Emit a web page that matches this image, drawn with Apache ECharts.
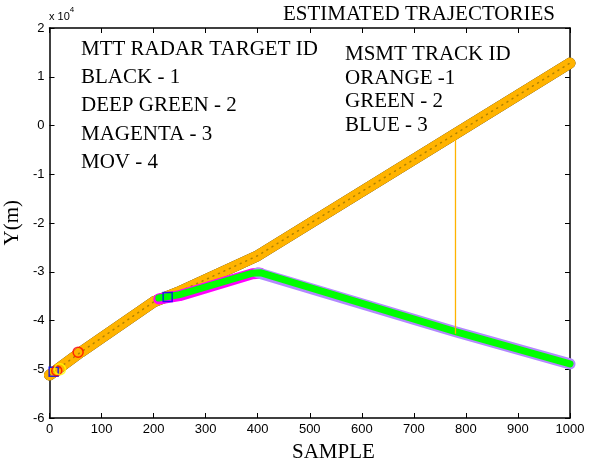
<!DOCTYPE html>
<html>
<head>
<meta charset="utf-8">
<script src="https://cdn.jsdelivr.net/npm/echarts@6/dist/echarts.min.js"></script>
<style>
html, body { margin: 0; padding: 0; background: #fff; }
#main { width: 590px; height: 467px; }
</style>
</head>
<body>
<div id="main"></div>
<script>
// x ticks and y ticks (y in metres, shown as x 10^4)
var xTicks = [0, 100, 200, 300, 400, 500, 600, 700, 800, 900, 1000]
var yTicks = [-60000, -50000, -40000, -30000, -20000, -10000, 0, 10000, 20000]

// track 1 (orange over black), vertices
var orangeTrack = [[0, -51200], [60, -46500], [200, -36200], [245, -34300], [400, -26700], [780, -1700], [1000, 12800]]
// track 2 (green with magenta / lavender edge)
var greenTrack = [[210, -35400], [250, -34700], [390, -30300], [405, -30200], [780, -42300], [1000, -48900]]
var magentaEdge = [[210, -35600], [250, -34900], [390, -30400], [405, -30300]]
var lavenderEdge = [[400, -30200], [780, -42300], [1000, -48900]]
// gating line from track 1 to track 2
var gateLine = [[780, -1800], [780, -42700]]
// markers near the start
var blueSquares = [[8, -50500], [227, -35200]]
var redCircles = [[55, -46500], [14, -50300]]
var yellowCircles = [[20, -50000]]

var targetText = ['MTT RADAR TARGET ID', 'BLACK - 1', 'DEEP GREEN - 2', 'MAGENTA - 3', 'MOV - 4']
var trackText = ['MSMT TRACK ID', 'ORANGE -1', 'GREEN - 2', 'BLUE - 3']

var chart = echarts.init(document.getElementById('main'))

var serif = '"Liberation Serif", "Times New Roman", serif'
var sans = '"Liberation Sans", Arial, sans-serif'

var graphics = []
targetText.forEach(function (t, i) {
    graphics.push({
        type: 'text', left: 81, top: 39 + i * 28.2,
        style: { text: t, font: '21px ' + serif, fill: '#000' }
    })
})
trackText.forEach(function (t, i) {
    graphics.push({
        type: 'text', left: 345, top: 44 + i * 23.7,
        style: { text: t, font: '21px ' + serif, fill: '#000' }
    })
})
graphics.push({
    type: 'text', left: 283, top: 4,
    style: { text: 'ESTIMATED TRAJECTORIES', font: '21px ' + serif, fill: '#000' }
})
graphics.push({
    type: 'text', left: 292, top: 442,
    style: { text: 'SAMPLE', font: '21px ' + serif, fill: '#000' }
})
graphics.push({
    type: 'text', left: 2, top: 200, rotation: Math.PI / 2,
    style: { text: 'Y(m)', font: '21px ' + serif, fill: '#000' }
})
graphics.push({
    type: 'text', left: 49, top: 6,
    style: {
        text: '{a|x 10}{b|4}',
        rich: {
            a: { font: '11px ' + sans, fill: '#000', verticalAlign: 'bottom' },
            b: { font: '8px ' + sans, fill: '#000', verticalAlign: 'top', padding: [0, 0, 8, 0] }
        }
    }
})

function lineSeries(data, color, width, z, extra) {
    var s = {
        type: 'line', data: data, symbol: 'none', z: z, silent: true,
        lineStyle: { color: color, width: width, cap: 'round', join: 'round' }
    }
    if (extra) Object.assign(s.lineStyle, extra)
    return s
}

var axisLine = { show: true, onZero: false, lineStyle: { color: '#000', width: 1.5 } }
var axisTick = { show: true, inside: true, length: 5, lineStyle: { color: '#000', width: 1 } }

var option = {
    animation: false,
    grid: { left: 49.5, right: 20, top: 28, bottom: 49 },
    xAxis: [
        {
            type: 'value', min: 0, max: 1000, interval: 100,
            axisLine: axisLine, axisTick: axisTick, splitLine: { show: false },
            axisLabel: {
                color: '#000', fontSize: 13, fontFamily: sans, margin: 5,
                formatter: function (v) { return String(v) }
            }
        },
        {
            type: 'value', position: 'top', min: 0, max: 1000, interval: 100,
            axisLine: axisLine, axisTick: axisTick, splitLine: { show: false },
            axisLabel: { show: false }
        }
    ],
    yAxis: [
        {
            type: 'value', min: -60000, max: 20000, interval: 10000,
            axisLine: axisLine, axisTick: axisTick, splitLine: { show: false },
            axisLabel: {
                color: '#000', fontSize: 13, fontFamily: sans, margin: 5,
                formatter: function (v) { return String(v / 10000) }
            }
        },
        {
            type: 'value', position: 'right', min: -60000, max: 20000, interval: 10000,
            axisLine: axisLine, axisTick: axisTick, splitLine: { show: false },
            axisLabel: { show: false }
        }
    ],
    series: [
        lineSeries(orangeTrack, '#1a1a1a', 11, 2),
        lineSeries(orangeTrack, '#FFB300', 11, 3),
        lineSeries(orangeTrack, 'rgba(110,90,0,0.55)', 1.5, 4, { type: [1, 5] }),
        lineSeries(magentaEdge, '#FF00FF', 11, 5),
        lineSeries(lavenderEdge, '#B388FF', 11, 5),
        lineSeries(greenTrack, '#00FF00', 7, 6),
        lineSeries(gateLine, '#FFB300', 1.3, 7, { cap: 'butt' }),
        {
            type: 'scatter', data: blueSquares, symbol: 'rect', symbolSize: 9, z: 8,
            itemStyle: { color: 'rgba(0,0,0,0)', borderColor: '#0000FF', borderWidth: 1.5 }
        },
        {
            type: 'scatter', data: redCircles, symbol: 'circle', symbolSize: 10, z: 8,
            itemStyle: { color: 'rgba(0,0,0,0)', borderColor: '#FF0000', borderWidth: 1.5 }
        },
        {
            type: 'scatter', data: yellowCircles, symbol: 'circle', symbolSize: 11, z: 8,
            itemStyle: { color: 'rgba(0,0,0,0)', borderColor: '#FFFF00', borderWidth: 1.5 }
        }
    ],
    graphic: graphics
}

chart.setOption(option)
</script>
</body>
</html>
